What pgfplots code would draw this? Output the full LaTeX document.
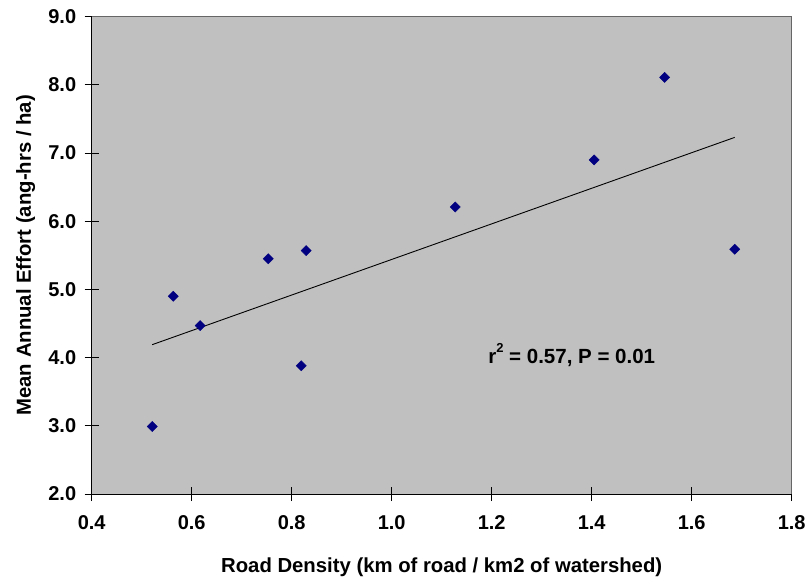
\documentclass[border=0pt]{standalone}
\usepackage{fontspec}
\setmainfont{Liberation Sans}
\usepackage{pgfplots}
\pgfplotsset{compat=1.18}
\definecolor{plotbg}{RGB}{192,192,192}
\definecolor{navy}{RGB}{0,0,128}
\begin{document}
\begin{tikzpicture}
\begin{axis}[
  at={(0,0)}, anchor=south west,
  scale only axis, width=700pt, height=477.3pt,
  xmin=0.4, xmax=1.8, ymin=2, ymax=9,
  xtick={0.4,0.6,...,1.8}, ytick={2,3,...,9},
  axis background/.style={fill=plotbg},
  axis line style={draw=none},
  tick align=center, major tick length=14pt,
  tick style={black, line width=0.8pt},
  xtick pos=bottom, ytick pos=left,
  /pgf/number format/assume math mode=true,
  /pgf/number format/.cd, fixed, fixed zerofill, precision=1, /pgfplots/.cd,
  ticklabel style={font=\fontsize{20}{23}\selectfont\bfseries},
  xticklabel style={yshift=-11pt},
  yticklabel style={xshift=-5pt},
  xlabel={Road Density (km of road / km2 of watershed)},
  ylabel={Mean Annual Effort (ang-hrs / ha)},
  label style={font=\fontsize{20.3}{23}\selectfont\bfseries},
  xlabel style={at={(axis description cs:0.5,0)}, anchor=center, yshift=-73pt},
  ylabel style={at={(axis description cs:0,0.5)}, anchor=center, yshift=66pt},
  clip=false,
]
\draw[gray!80!black, line width=0.8pt] (rel axis cs:0,1) -- (rel axis cs:1,1) -- (rel axis cs:1,0);
\draw[black, line width=0.9pt] (rel axis cs:0,1) -- (rel axis cs:0,0) -- (rel axis cs:1,0);
\addplot[black, line width=0.9pt] coordinates {(0.521,4.19) (1.686,7.23)};
\addplot[only marks, mark=square*, mark size=3.6pt, mark options={rotate=45, fill=navy, draw=navy}] coordinates {
(0.521,2.99) (0.563,4.90) (0.617,4.47) (0.753,5.45) (0.829,5.57)
(0.819,3.88) (1.127,6.21) (1.405,6.90) (1.546,8.11) (1.686,5.59)};
\node[font=\fontsize{20.5}{23}\selectfont\bfseries] at (axis cs:1.36,4.04) {r\raisebox{0.95ex}{\fontsize{13}{15}\selectfont\bfseries 2} = 0.57, P = 0.01};
\end{axis}
\pgfresetboundingbox
\path (-91.7pt,-85pt) rectangle (716.3pt,494pt);
\end{tikzpicture}
\end{document}
